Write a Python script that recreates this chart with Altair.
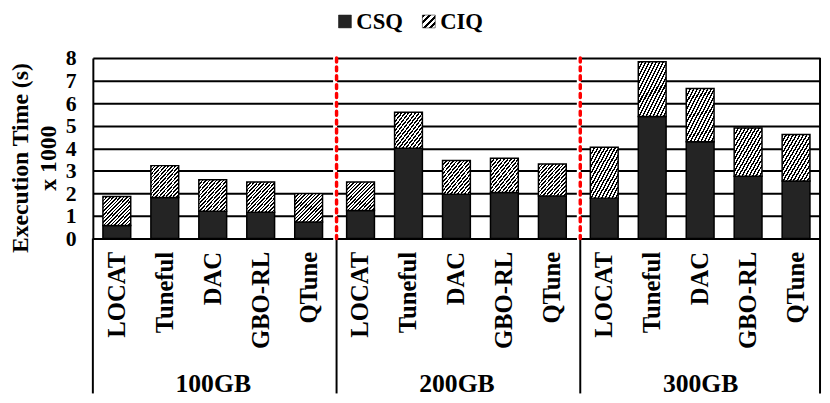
import altair as alt
import pandas as pd

# ---- data (units: seconds x 1000) ----
groups = ["100GB", "200GB", "300GB"]
algos = ["LOCAT", "Tuneful", "DAC", "GBO-RL", "QTune"]
series = ["CSQ", "CIQ"]

csq_100 = [0.58, 1.82, 1.21, 1.16, 0.73]
ciq_100 = [1.28, 1.41, 1.39, 1.34, 1.26]
csq_200 = [1.24, 4.00, 1.96, 2.04, 1.89]
ciq_200 = [1.26, 1.60, 1.50, 1.52, 1.41]
csq_300 = [1.79, 5.41, 4.29, 2.76, 2.55]
ciq_300 = [2.25, 2.42, 2.36, 2.14, 2.06]

y_ticks = [0, 1, 2, 3, 4, 5, 6, 7, 8]

rows = []
for g, cs, ci in zip(groups, [csq_100, csq_200, csq_300], [ciq_100, ciq_200, ciq_300]):
    for a, s, i in zip(algos, cs, ci):
        rows.append({"group": g, "algo": a, "csq": s, "ciq": i})
df = pd.DataFrame(rows)

# ---- styling ----
FONT = "Liberation Serif"
DARK = "#242424"
W, H = 243, 183
BELOW = 157


def hatch(n, dark=0.45):
    stops = []
    for k in range(n):
        a, b, c = k / n, (k + dark) / n, (k + 1) / n
        stops += [
            alt.GradientStop(offset=a, color="black"),
            alt.GradientStop(offset=b, color="black"),
            alt.GradientStop(offset=b, color="white"),
            alt.GradientStop(offset=c, color="white"),
        ]
    return alt.LinearGradient(gradient="linear", stops=stops, x1=0, y1=0, x2=1, y2=1)


one = pd.DataFrame({"v": [0]})


def panel(i, g):
    first = i == 0
    last = i == len(groups) - 1
    base = alt.Chart(df).transform_filter(alt.datum.group == g)
    x = alt.X(
        "algo:N",
        sort=algos,
        scale=alt.Scale(paddingInner=0.42, paddingOuter=0.21),
        title=g,
        axis=alt.Axis(
            labelAngle=-90,
            labelFontSize=25,
            labelFontWeight="bold",
            labelPadding=13,
            labelOverlap=False,
            ticks=False,
            domainColor="black",
            domainWidth=2,
            titleFontSize=26,
            titleFontWeight="bold",
            titlePadding=22,
        ),
    )
    yscale = alt.Scale(domain=[0, 8], nice=False)
    if first:
        yaxis = alt.Axis(
            values=y_ticks,
            grid=True,
            gridColor="black",
            gridWidth=2,
            domain=True,
            domainColor="black",
            domainWidth=2,
            ticks=False,
            labelPadding=17,
            labelFontSize=22,
            labelFontWeight="bold",
            labelOverlap=False,
            titleFontSize=24,
            titleFontWeight="bold",
            titleLineHeight=28,
            titlePadding=5,
            titleY=101,
        )
        ytitle = ["Execution Time (s)", "x 1000"]
    else:
        yaxis = alt.Axis(
            values=y_ticks,
            grid=True,
            gridColor="black",
            gridWidth=2,
            domain=False,
            ticks=False,
            labels=False,
        )
        ytitle = None

    csq_bar = base.mark_bar(fill=DARK, stroke="black", strokeWidth=1.5).encode(
        x=x, y=alt.Y("csq:Q", scale=yscale, axis=yaxis, title=ytitle)
    )
    ciq_bar = (
        base.transform_calculate(top="datum.csq + datum.ciq")
        .mark_bar(fill=hatch(16), stroke="black", strokeWidth=1.5)
        .encode(x=x, y=alt.Y("csq:Q", scale=yscale, axis=yaxis, title=ytitle), y2="top:Q")
    )
    layers = [csq_bar, ciq_bar]
    layers.append(
        alt.Chart(one)
        .mark_rule(color="black", strokeWidth=2)
        .encode(x=alt.value(0), y=alt.value(H), y2=alt.value(H + BELOW))
    )
    if not first:
        layers.append(
            alt.Chart(one)
            .mark_rule(color="red", strokeWidth=3.5, strokeDash=[4, 5], strokeCap="round")
            .encode(x=alt.value(0), y=alt.value(0), y2=alt.value(H))
        )
    if last:
        layers.append(
            alt.Chart(one)
            .mark_rule(color="black", strokeWidth=2)
            .encode(x=alt.value(W), y=alt.value(0), y2=alt.value(H + BELOW))
        )
    if i == 1:
        # manual legend (patterned swatches) above the middle panel
        for k, s in enumerate(series):
            sdf = pd.DataFrame({"series": [s]})
            fill = DARK if s == "CSQ" else hatch(4)
            layers.append(
                alt.Chart(sdf)
                .mark_square(size=169, opacity=1, fill=fill, stroke="black", strokeWidth=0.5)
                .encode(x=alt.value(8.5 + 85 * k), y=alt.value(-37))
            )
            layers.append(
                alt.Chart(sdf)
                .mark_text(align="left", baseline="middle", fontSize=23, fontWeight="bold",
                           font=FONT, color="black")
                .encode(text="series:N", x=alt.value(20 + 85 * k), y=alt.value(-36))
            )
    return alt.layer(*layers).properties(width=W, height=H)


chart = (
    alt.hconcat(*[panel(i, g) for i, g in enumerate(groups)], spacing=0)
    .properties(padding=0)
    .configure(font=FONT)
    .configure_view(stroke="transparent")
    .configure_axis(labelColor="black", titleColor="black", labelFont=FONT, titleFont=FONT)
)

chart.save("out.html", embed_options={"renderer": "svg", "actions": False})
